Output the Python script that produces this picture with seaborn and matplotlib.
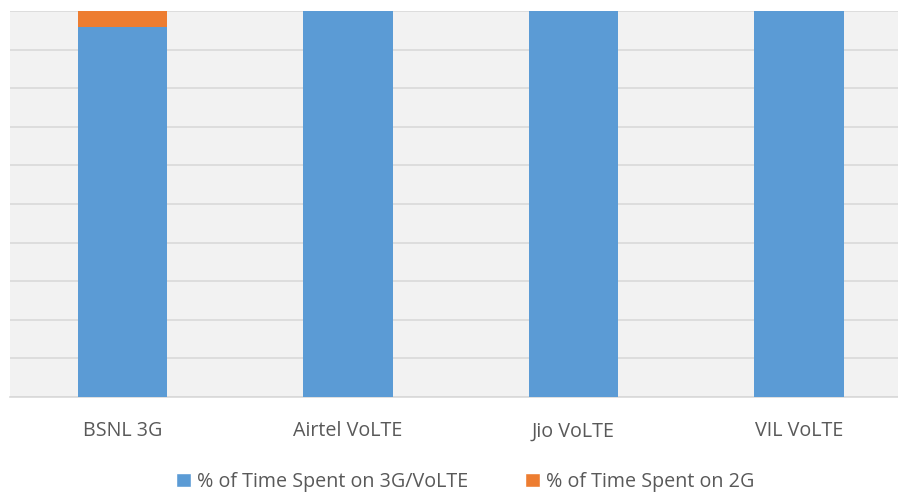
import matplotlib
matplotlib.use("Agg")
import matplotlib.pyplot as plt
import seaborn as sns
import pandas as pd
from matplotlib.patches import Patch

# data (percent of time)
operators = ["BSNL 3G", "Airtel VoLTE", "Jio VoLTE", "VIL VoLTE"]
time_3g_volte = [95.9, 100, 100, 100]
time_2g = [4.1, 0, 0, 0]
series_names = ["% of Time Spent on 3G/VoLTE", "% of Time Spent on 2G"]

df = pd.DataFrame({"operator": operators, "volte": time_3g_volte, "g2": time_2g})
df["total"] = df["volte"] + df["g2"]

blue = "#5B9BD5"
orange = "#ED7D31"

sns.set_style("white")
plt.rcParams["font.family"] = ["Open Sans", "DejaVu Sans"]

fig = plt.figure(figsize=(8.98, 4.95), dpi=100)
ax = fig.add_axes([10 / 898, 1 - 397 / 495, 888 / 898, 386 / 495])
ax.set_facecolor("#F2F2F2")

# stacked: draw totals (orange) then the lower segment (blue) on top
sns.barplot(data=df, x="operator", y="total", color=orange, width=0.395,
            saturation=1, linewidth=0, ax=ax, zorder=2)
sns.barplot(data=df, x="operator", y="volte", color=blue, width=0.395,
            saturation=1, linewidth=0, ax=ax, zorder=3)

ax.set_ylim(0, 100)
ax.set_xlim(-0.499, 3.439)
ax.set_yticks(range(0, 101, 10))
ax.yaxis.grid(True, color="#D9D9D9", linewidth=1.2, zorder=0)
ax.set_axisbelow(True)
ax.tick_params(axis="y", left=False, labelleft=False)
ax.tick_params(axis="x", bottom=False, labelsize=14.2, labelcolor="#595959", pad=14)
ax.set_xlabel("")
ax.set_ylabel("")
for side in ["top", "left", "right"]:
    ax.spines[side].set_visible(False)
ax.spines["bottom"].set_color("#D9D9D9")
ax.spines["bottom"].set_linewidth(1.2)

handles = [Patch(facecolor=blue), Patch(facecolor=orange)]
fig.legend(handles, series_names, loc="center", bbox_to_anchor=(0.518, 1 - 482 / 495),
           ncol=2, frameon=False, fontsize=14.2, labelcolor="#595959",
           handlelength=0.75, handleheight=0.75, handletextpad=0.3, columnspacing=2.9)

fig.savefig("out.png", dpi=100)
